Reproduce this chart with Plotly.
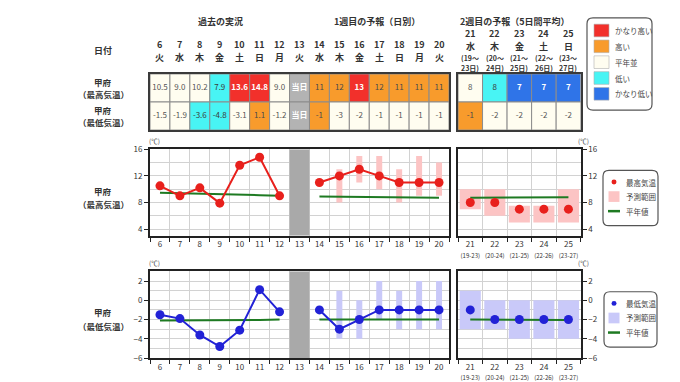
import plotly.graph_objects as go

W, H = 680, 382

# ---------------- data ----------------
days1 = [6, 7, 8, 9, 10, 11, 12, 13, 14, 15, 16, 17, 18, 19, 20]
weekdays1 = ['火', '水', '木', '金', '土', '日', '月', '火', '水', '木', '金', '土', '日', '月', '火']
max_text1 = ['10.5', '9.0', '10.2', '7.9', '13.6', '14.8', '9.0', '当日', '11', '12', '13', '12', '11', '11', '11']
max_class1 = ['N', 'N', 'N', 'L', 'VH', 'VH', 'N', 'T', 'H', 'H', 'VH', 'H', 'H', 'H', 'H']
min_text1 = ['-1.5', '-1.9', '-3.6', '-4.8', '-3.1', '1.1', '-1.2', '当日', '-1', '-3', '-2', '-1', '-1', '-1', '-1']
min_class1 = ['N', 'N', 'L', 'L', 'N', 'H', 'N', 'T', 'H', 'N', 'N', 'N', 'N', 'N', 'N']

days2 = [21, 22, 23, 24, 25]
weekdays2 = ['水', '木', '金', '土', '日']
period_start2 = ['19', '20', '21', '22', '23']
period_end2 = ['23', '24', '25', '26', '27']
max_text2 = ['8', '8', '7', '7', '7']
max_class2 = ['N', 'L', 'VL', 'VL', 'VL']
min_text2 = ['-1', '-2', '-2', '-2', '-2']
min_class2 = ['H', 'N', 'N', 'N', 'N']

today_day = [13]

obs_days = [6, 7, 8, 9, 10, 11, 12]
obs_max = [10.5, 9.0, 10.2, 7.9, 13.6, 14.8, 9.0]
obs_min = [-1.5, -1.9, -3.6, -4.8, -3.1, 1.1, -1.2]
normal_max_obs = [9.45, 9.4, 9.3, 9.25, 9.2, 9.1, 9.0]
normal_min_obs = [-2.1, -2.1, -2.1, -2.1, -2.1, -2.05, -2.0]

fc_days = [14, 15, 16, 17, 18, 19, 20]
fc_max = [11, 12, 13, 12, 11, 11, 11]
fc_max_low = [None, 8, 11, 10, 8, 9, 9]
fc_max_high = [None, 13, 15, 15, 13, 15, 14]
normal_max_fc = [8.9, 8.85, 8.8, 8.75, 8.7, 8.7, 8.7]
fc_min = [-1, -3, -2, -1, -1, -1, -1]
fc_min_low = [None, -4, -4, -2, -3, -3, -3]
fc_min_high = [None, 1, 0, 2, 1, 2, 2]
normal_min_fc = [-2.0, -2.0, -2.0, -2.0, -2.0, -2.0, -2.0]

wk2_max = [8, 8, 7, 7, 7]
wk2_max_low = [7, 6, 5, 5, 5]
wk2_max_high = [10, 10, 7.5, 7.5, 10]
normal_max_wk2 = [8.7, 8.7, 8.75, 8.75, 8.8]
wk2_min = [-1, -2, -2, -2, -2]
wk2_min_low = [-3, -3, -4, -4, -4]
wk2_min_high = [1, 0, 0, 0, 0]
normal_min_wk2 = [-2.0, -2.0, -2.0, -2.05, -2.05]

class_labels = ['かなり高い', '高い', '平年並', '低い', 'かなり低い']
class_keys = ['VH', 'H', 'N', 'L', 'VL']

# ---------------- styles ----------------
CLS_COLOR = {'VH': '#f2302b', 'H': '#f89b2c', 'N': '#fffdf0', 'L': '#48f4f4',
             'VL': '#2f74e8', 'T': '#b3b3b3'}
CLS_TEXT = {'VH': 'white', 'H': '#4a4a4a', 'N': '#555555', 'L': '#3a3a3a',
            'VL': 'white', 'T': 'white'}
BOLD = {'VH', 'VL', 'T'}
RED = '#e8201c'
BLUE = '#2222d6'
GREEN = '#1e7a22'
PINK = '#fcc4c4'
LAV = '#c9c9f9'
GRID = '#d2d2d2'
FRAME = '#222222'
JP = 'Noto Sans CJK JP, sans-serif'
NUM = 'Noto Sans CJK JP, sans-serif'
TXT = '#333333'


def px(x):
    return x / W


def py(y):
    return 1 - y / H


XD1 = [px(142), px(441)]
XD2 = [px(450), px(572.7)]
YT = [py(119.5), py(61.7)]
YMX = [py(228.3), py(139.3)]
YMN = [py(354.3), py(265)]

fig = go.Figure()


def cell_text(t, c):
    return '<b>%s</b>' % t if c in BOLD else t


def add_table(days, texts_max, cls_max, texts_min, cls_min, xa, ya):
    n = len(days)
    for base, texts, cls, yc in [(1, texts_max, cls_max, 1.5), (0, texts_min, cls_min, 0.5)]:
        fig.add_trace(go.Bar(x=days, y=[1] * n, base=[base] * n, width=1,
                             marker=dict(color=[CLS_COLOR[c] for c in cls],
                                         line=dict(color='#8c8c8c', width=1)),
                             xaxis=xa, yaxis=ya, showlegend=False, hoverinfo='skip'))
        fig.add_trace(go.Scatter(x=days, y=[yc] * n, mode='text',
                                 text=[cell_text(t, c) for t, c in zip(texts, cls)],
                                 textfont=dict(family=NUM, size=8,
                                               color=[CLS_TEXT[c] for c in cls]),
                                 xaxis=xa, yaxis=ya, showlegend=False, hoverinfo='skip'))


add_table(days1, max_text1, max_class1, min_text1, min_class1, 'x', 'y')
add_table(days2, max_text2, max_class2, min_text2, min_class2, 'x2', 'y2')


def filt(days, lo, hi):
    d, b, h = [], [], []
    for dd, l, u in zip(days, lo, hi):
        if l is not None:
            d.append(dd)
            b.append(l)
            h.append(u - l)
    return d, b, h


def add_chart(xa1, ya1, xa2, ya2, yrange, obs, nobs, fc, lo, hi, nfc,
              wk, wlo, whi, nwk, col, rng_col):
    fig.add_trace(go.Bar(x=today_day, y=[yrange[1] - yrange[0]], base=[yrange[0]], width=1,
                         marker=dict(color='#a9a9a9', line=dict(width=0)),
                         xaxis=xa1, yaxis=ya1, showlegend=False, hoverinfo='skip'))
    d, b, h = filt(fc_days, lo, hi)
    fig.add_trace(go.Bar(x=d, y=h, base=b, width=0.3,
                         marker=dict(color=rng_col, line=dict(width=0)),
                         xaxis=xa1, yaxis=ya1, showlegend=False, hoverinfo='skip'))
    d, b, h = filt(days2, wlo, whi)
    fig.add_trace(go.Bar(x=d, y=h, base=b, width=0.86,
                         marker=dict(color=rng_col, line=dict(width=0)),
                         xaxis=xa2, yaxis=ya2, showlegend=False, hoverinfo='skip'))
    for dd, nv in [(obs_days, nobs), (fc_days, nfc)]:
        fig.add_trace(go.Scatter(x=dd, y=nv, mode='lines', line=dict(color=GREEN, width=2),
                                 xaxis=xa1, yaxis=ya1, showlegend=False, hoverinfo='skip'))
    fig.add_trace(go.Scatter(x=days2, y=nwk, mode='lines', line=dict(color=GREEN, width=2),
                             xaxis=xa2, yaxis=ya2, showlegend=False, hoverinfo='skip'))
    for dd, v in [(obs_days, obs), (fc_days, fc)]:
        fig.add_trace(go.Scatter(x=dd, y=v, mode='lines+markers',
                                 line=dict(color=col, width=2),
                                 marker=dict(color=col, size=9),
                                 xaxis=xa1, yaxis=ya1, showlegend=False, hoverinfo='skip'))
    fig.add_trace(go.Scatter(x=days2, y=wk, mode='markers',
                             marker=dict(color=col, size=9),
                             xaxis=xa2, yaxis=ya2, showlegend=False, hoverinfo='skip'))


add_chart('x3', 'y3', 'x4', 'y4', [3, 16], obs_max, normal_max_obs, fc_max, fc_max_low,
          fc_max_high, normal_max_fc, wk2_max, wk2_max_low, wk2_max_high, normal_max_wk2, RED, PINK)
add_chart('x5', 'y5', 'x6', 'y6', [-6, 3], obs_min, normal_min_obs, fc_min, fc_min_low,
          fc_min_high, normal_min_fc, wk2_min, wk2_min_low, wk2_min_high, normal_min_wk2, BLUE, LAV)

# ---------------- axes ----------------
table_x = dict(showticklabels=False, ticks='', showgrid=False, zeroline=False,
               showline=True, mirror=True, linecolor='#3a3a3a', linewidth=1.5)
table_y = dict(range=[0, 2], showticklabels=False, ticks='', showgrid=False, zeroline=False,
               showline=True, mirror=True, linecolor='#3a3a3a', linewidth=1.5)

wk2_ticktext = ["%d<br><span style='font-size:6px'>(%s-%s)</span>" % (d, a, b)
                for d, a, b in zip(days2, period_start2, period_end2)]


def chart_x(domain, rng, tv, tt, anchor):
    return dict(domain=domain, range=rng, anchor=anchor, tickmode='array', tickvals=tv,
                ticktext=tt, ticks='', showgrid=False, zeroline=False,
                tickfont=dict(family=NUM, size=8, color=TXT),
                minor=dict(tickmode='linear', tick0=0.5, dtick=1, showgrid=True,
                           gridcolor=GRID, gridwidth=1, ticks='outside', ticklen=4,
                           tickcolor=FRAME),
                showline=True, mirror=True, linecolor=FRAME, linewidth=2)


def chart_y(domain, rng, dt, mdt, side, anchor):
    return dict(domain=domain, range=rng, anchor=anchor, side=side, tick0=0, dtick=dt,
                ticks='outside', ticklen=4, tickcolor=FRAME, showgrid=True, gridcolor=GRID,
                zeroline=False, tickfont=dict(family=NUM, size=8, color=TXT),
                minor=dict(dtick=mdt, tick0=0, showgrid=True, gridcolor=GRID),
                showline=True, mirror=True, linecolor=FRAME, linewidth=2)


fig.update_layout(
    width=W, height=H, margin=dict(l=0, r=0, t=0, b=0),
    paper_bgcolor='white', plot_bgcolor='white', barmode='overlay', showlegend=False,
    xaxis=dict(domain=XD1, range=[5.5, 20.5], anchor='y', **table_x),
    yaxis=dict(domain=YT, anchor='x', **table_y),
    xaxis2=dict(domain=XD2, range=[20.5, 25.5], anchor='y2', **table_x),
    yaxis2=dict(domain=YT, anchor='x2', **table_y),
    xaxis3=chart_x(XD1, [5.5, 20.5], days1, [str(d) for d in days1], 'y3'),
    yaxis3=chart_y(YMX, [3, 16], 4, 2, 'left', 'x3'),
    xaxis4=chart_x(XD2, [20.5, 25.5], days2, wk2_ticktext, 'y4'),
    yaxis4=chart_y(YMX, [3, 16], 4, 2, 'right', 'x4'),
    xaxis5=chart_x(XD1, [5.5, 20.5], days1, [str(d) for d in days1], 'y5'),
    yaxis5=chart_y(YMN, [-6, 3], 2, 1, 'left', 'x5'),
    xaxis6=chart_x(XD2, [20.5, 25.5], days2, wk2_ticktext, 'y6'),
    yaxis6=chart_y(YMN, [-6, 3], 2, 1, 'right', 'x6'),
)

ann = []


def A(text, x, y, size=9, bold=False, xref='paper', anchor='center', color=TXT, family=JP):
    ann.append(dict(text='<b>%s</b>' % text if bold else text, x=x if xref != 'paper' else px(x),
                    y=py(y), xref=xref, yref='paper', showarrow=False, xanchor=anchor,
                    yanchor='middle', borderpad=0,
                    font=dict(family=family, size=size, color=color)))


# headers
A('過去の実況', 212, 8, 9, True)
A('1週目の予報（日別）', 369, 8, 9, True)
A('2週目の予報（5日間平均）', 507, 8, 9, True)
A('日付', 95, 38, 9, True)
for d, w in zip(days1, weekdays1):
    A(str(d), d, 31, 9, True, xref='x')
    A(w, d, 44.5, 9, True, xref='x')
for d, w, a, b in zip(days2, weekdays2, period_start2, period_end2):
    A(str(d), d, 20, 9, True, xref='x2')
    A(w, d, 33, 9, True, xref='x2')
    A('(%s〜' % a, d, 45, 7, True, xref='x2')
    A('%s日)' % b, d, 56, 7, True, xref='x2')

# row labels
for y1, y2, lab in [(70, 82.5, '（最高気温）'), (98.5, 111, '（最低気温）'),
                    (182, 196, '（最高気温）'), (307, 321, '（最低気温）')]:
    A('甲府', 95, y1, 8.5, True)
    A(lab, 95, y2, 8.5, True)

# unit labels
for x, y in [(146, 131), (575, 131), (146, 256), (575, 256)]:
    A('(℃)', x, y, 6.5, False, color='#444')

shapes = []


def rrect(x0, y0, x1, y1, r):
    P = lambda x, y: '%f,%f' % (px(x), py(y))
    path = ('M ' + P(x0 + r, y0) + ' L ' + P(x1 - r, y0) + ' Q ' + P(x1, y0) + ' ' + P(x1, y0 + r) +
            ' L ' + P(x1, y1 - r) + ' Q ' + P(x1, y1) + ' ' + P(x1 - r, y1) +
            ' L ' + P(x0 + r, y1) + ' Q ' + P(x0, y1) + ' ' + P(x0, y1 - r) +
            ' L ' + P(x0, y0 + r) + ' Q ' + P(x0, y0) + ' ' + P(x0 + r, y0) + ' Z')
    shapes.append(dict(type='path', path=path, xref='paper', yref='paper',
                       line=dict(color='#555555', width=1.2), fillcolor='white'))


def rect(x0, y0, x1, y1, fill, line='#aaaaaa', lw=0.8):
    shapes.append(dict(type='rect', xref='paper', yref='paper', x0=px(x0), x1=px(x1),
                       y0=py(y1), y1=py(y0), fillcolor=fill, line=dict(color=line, width=lw)))


# category legend
rrect(579, 4, 644, 99, 6)
for i, (k, lab) in enumerate(zip(class_keys, class_labels)):
    yc = 17 + i * 16.3
    rect(586, yc - 6.5, 601, yc + 6.5, CLS_COLOR[k], '#b0b0b0', 0.6)
    A(lab, 606, yc, 7.5, False, anchor='left', color='#444')

# chart legends
for (bx0, by0, bx1, by1, col, rcol, lab) in [(595, 161, 650, 218, RED, PINK, '最高気温'),
                                              (596, 286, 649, 343, BLUE, LAV, '最低気温')]:
    rrect(bx0, by0, bx1, by1, 6)
    y1c, y2c, y3c = by0 + 12, by0 + 27, by0 + 42
    shapes.append(dict(type='circle', xref='paper', yref='paper', x0=px(603.5), x1=px(608.5),
                       y0=py(y1c + 2.5), y1=py(y1c - 2.5), fillcolor=col, line=dict(width=0)))
    rect(600.5, y2c - 5.5, 611.5, y2c + 5.5, rcol, rcol, 0)
    shapes.append(dict(type='line', xref='paper', yref='paper', x0=px(600), x1=px(612),
                       y0=py(y3c), y1=py(y3c), line=dict(color=GREEN, width=2.5)))
    A(lab, 617, y1c, 7.5, False, anchor='left', color='#444')
    A('予測範囲', 617, y2c, 7.5, False, anchor='left', color='#444')
    A('平年値', 617, y3c, 7.5, False, anchor='left', color='#444')

fig.update_layout(annotations=ann, shapes=shapes)
fig.write_html('out.html')
